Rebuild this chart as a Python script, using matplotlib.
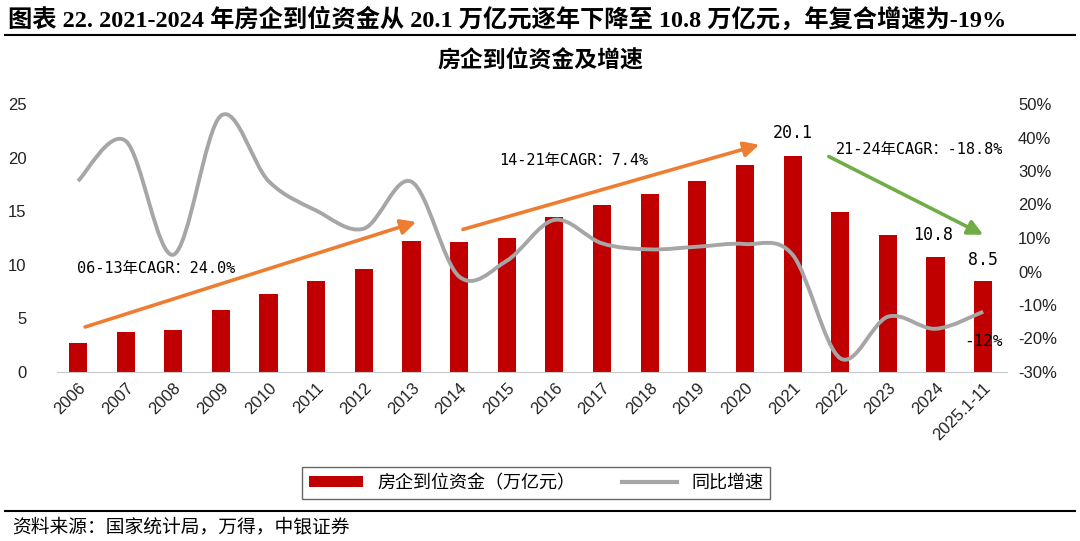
import numpy as np
import matplotlib
matplotlib.use('Agg')
import matplotlib.pyplot as plt
from matplotlib.path import Path
from matplotlib.patches import PathPatch, Patch
from matplotlib.lines import Line2D

plt.rcParams['font.family'] = ['Liberation Sans', 'Noto Sans CJK SC']
plt.rcParams['axes.unicode_minus'] = False

# data
years = ['2006', '2007', '2008', '2009', '2010', '2011', '2012', '2013', '2014', '2015',
         '2016', '2017', '2018', '2019', '2020', '2021', '2022', '2023', '2024', '2025.1-11']
funds = [2.70, 3.76, 3.92, 5.76, 7.25, 8.51, 9.65, 12.21, 12.15, 12.52,
         14.43, 15.61, 16.60, 17.86, 19.31, 20.11, 14.90, 12.75, 10.75, 8.50]
growth = [27.0, 39.0, 5.0, 46.5, 27.0, 18.2, 12.8, 26.8, -1.5, 3.2,
          15.4, 8.4, 6.6, 7.4, 8.2, 5.0, -25.9, -13.5, -17.1, -12.0]
labels_show = {15: '20.1', 18: '10.8', 19: '8.5'}

bar_color = '#C00000'
line_color = '#A6A6A6'
orange = '#ED7D31'
green = '#70AD47'
cjk_mono = ['DejaVu Sans Mono', 'Noto Sans CJK SC']

fig = plt.figure(figsize=(10.8, 5.41), dpi=100)
ax = fig.add_axes([57 / 1080, 1 - 372 / 541, (1007 - 57) / 1080, (372 - 104) / 541])
ax2 = ax.twinx()

x = np.arange(len(years))
ax.bar(x, funds, width=0.38, color=bar_color, zorder=2)
ax.set_xlim(-0.44, 19.5)
ax.set_ylim(0, 25)
ax.set_yticks([0, 5, 10, 15, 20, 25])
ax.set_xticks(x)
ax.set_xticklabels(years, rotation=45, ha='right', rotation_mode='anchor', fontsize=12)
ax.tick_params(axis='both', length=0, labelsize=12, colors='#222222')
ax.tick_params(axis='x', pad=6, labelsize=12)
ax.tick_params(axis='y', pad=22)

for s in ['top', 'right', 'left']:
    ax.spines[s].set_visible(False)
    ax2.spines[s].set_visible(False)
ax.spines['bottom'].set_color('#C8C8C8')
ax2.spines['bottom'].set_visible(False)

ax2.set_ylim(-30, 50)
ax2.set_yticks(range(-30, 51, 10))
ax2.set_yticklabels([f'{v}%' for v in range(-30, 51, 10)])
ax2.tick_params(axis='y', length=0, labelsize=12, colors='#222222', pad=8)

# smoothed growth line (Catmull-Rom -> cubic Bezier)
g = np.array(growth, dtype=float)
xs = x.astype(float)
pts = np.column_stack([xs, g])
verts = [pts[0]]
codes = [Path.MOVETO]
n = len(pts)
for i in range(n - 1):
    p0 = pts[i - 1] if i > 0 else pts[i]
    p1 = pts[i]
    p2 = pts[i + 1]
    p3 = pts[i + 2] if i + 2 < n else pts[i + 1]
    c1 = p1 + (p2 - p0) / 6
    c2 = p2 - (p3 - p1) / 6
    verts += [c1, c2, p2]
    codes += [Path.CURVE4] * 3
ax2.add_patch(PathPatch(Path(verts, codes), fill=False, edgecolor=line_color, lw=2.8, zorder=3))
ax.set_zorder(ax2.get_zorder() - 1)
ax.patch.set_visible(False)

# value labels on bars
ax.text(15, 22.3, labels_show[15], ha='center', va='center', fontsize=12, family=cjk_mono)
ax.text(17.95, 12.75, labels_show[18], ha='center', va='center', fontsize=12, family=cjk_mono)
ax.text(19, 10.45, labels_show[19], ha='center', va='center', fontsize=12, family=cjk_mono)
ax2.text(19, -21.0, '-12%', ha='center', va='center', fontsize=11.5, family=cjk_mono, zorder=5)

# CAGR arrows
arrow_kw = dict(arrowstyle='-|>,head_length=0.9,head_width=0.45', lw=2.6, shrinkA=0, shrinkB=0)
ax.annotate('', xy=(7.1, 14.0), xytext=(0.15, 4.2),
            arrowprops=dict(color=orange, **arrow_kw), zorder=4)
ax.annotate('', xy=(14.3, 21.2), xytext=(8.08, 13.3),
            arrowprops=dict(color=orange, **arrow_kw), zorder=4)
ax.annotate('', xy=(19.0, 12.8), xytext=(15.76, 20.1),
            arrowprops=dict(color=green, **arrow_kw), zorder=4)

ax.text(-0.02, 9.7, '06-13年CAGR：24.0%', ha='left', va='center', fontsize=11, family=cjk_mono)
ax.text(8.85, 19.7, '14-21年CAGR：7.4%', ha='left', va='center', fontsize=11, family=cjk_mono)
ax.text(15.9, 20.8, '21-24年CAGR：-18.8%', ha='left', va='center', fontsize=11, family=cjk_mono)

# titles
fig.text(8 / 1080, 1 - 19 / 541, '图表 22. 2021-2024 年房企到位资金从 20.1 万亿元逐年下降至 10.8 万亿元，年复合增速为-19%',
         ha='left', va='center', fontsize=17.5, fontweight='bold',
         family=['Liberation Serif', 'Noto Sans CJK SC'])
fig.add_artist(Line2D([5 / 1080, 1075 / 1080], [1 - 35 / 541] * 2, color='black', lw=1.5))
fig.text(540 / 1080, 1 - 60 / 541, '房企到位资金及增速', ha='center', va='center',
         fontsize=16.5, fontweight='bold', family=['Noto Sans CJK SC'])

# legend
handles = [Patch(facecolor=bar_color, edgecolor='none'),
           Line2D([0], [0], color=line_color, lw=3)]
leg = fig.legend(handles, ['房企到位资金（万亿元）', '同比增速'], ncol=2,
                 loc='center', bbox_to_anchor=(536 / 1080, 1 - 483 / 541),
                 frameon=True, fancybox=False, edgecolor='#404040',
                 handlelength=3.0, handleheight=0.6, columnspacing=2.6,
                 borderpad=0.4, prop={'family': ['Noto Sans CJK SC'], 'size': 13})
leg.get_frame().set_linewidth(1.0)

fig.add_artist(Line2D([5 / 1080, 1075 / 1080], [1 - 511 / 541] * 2, color='black', lw=1.5))
fig.text(12 / 1080, 1 - 527 / 541, '资料来源：国家统计局，万得，中银证券', ha='left', va='center',
         fontsize=13.5, family=['Noto Sans CJK SC'])

fig.savefig('out.png', dpi=100)
